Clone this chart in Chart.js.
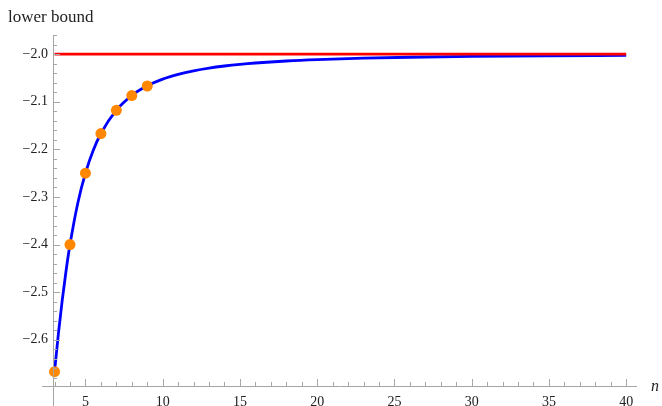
<!DOCTYPE html>
<html>
<head>
<meta charset="utf-8">
<script src="https://cdn.jsdelivr.net/npm/chart.js@4"></script>
<style>
  body { margin: 0; background: #fff; }
</style>
</head>
<body>
<canvas id="bound" width="662" height="406"></canvas>
<script>
// values
var curveN = [3, 3.25, 3.5, 3.75, 4, 4.5, 5, 5.5, 6, 7, 8, 9, 10, 11, 12, 13, 14, 15, 16, 18, 20, 23, 26, 30, 35, 40];
var curveBound = [-2.6667, -2.5872, -2.5161, -2.4539, -2.4000, -2.3137, -2.2500, -2.2025, -2.1667, -2.1176,
  -2.0870, -2.0667, -2.0526, -2.0426, -2.0351, -2.0294, -2.0250, -2.0215, -2.0187, -2.0145, -2.0116,
  -2.0086, -2.0066, -2.0049, -2.0036, -2.0027];
var pointN = [3, 4, 5, 6, 7, 8, 9];
var pointBound = [-2.667, -2.400, -2.250, -2.167, -2.118, -2.087, -2.067];
var limitN = [3, 40];
var limitValue = -2.0;
var xTicks = [5, 10, 15, 20, 25, 30, 35, 40];
var yTicks = [-2.6, -2.5, -2.4, -2.3, -2.2, -2.1, -2.0];

var serif = "'Liberation Serif', 'DejaVu Serif', serif";
var axisColor = '#a6a6a6';

// Mathematica-style axes: ticks point inward, axes overshoot a little
var axesPlugin = {
  id: 'mmaAxes',
  afterDatasetsDraw: function(chart) {
    var ctx = chart.ctx, xs = chart.scales.x, ys = chart.scales.y, a = chart.chartArea;
    ctx.save();
    ctx.strokeStyle = axisColor;
    ctx.lineWidth = 1;
    ctx.beginPath();
    ctx.moveTo(a.left - 11, a.bottom + 0.5);
    ctx.lineTo(a.right, a.bottom + 0.5);
    ctx.moveTo(a.left + 0.5, a.top);
    ctx.lineTo(a.left + 0.5, chart.height);
    // x ticks
    for (var i = 3; i <= 40; i++) {
      var px = Math.round(xs.getPixelForValue(i)) + 0.5;
      var len = i % 5 === 0 ? 7 : 4;
      ctx.moveTo(px, a.bottom);
      ctx.lineTo(px, a.bottom - len);
    }
    // y ticks
    for (var k = -134; k <= -98; k++) {
      var v = k / 50;
      var py = Math.round(ys.getPixelForValue(v)) + 0.5;
      var l = k % 5 === 0 ? 7 : 4;
      ctx.moveTo(a.left, py);
      ctx.lineTo(a.left + l, py);
    }
    ctx.stroke();

    ctx.fillStyle = '#222';
    ctx.font = '17px ' + serif;
    ctx.textAlign = 'left';
    ctx.textBaseline = 'alphabetic';
    ctx.fillText('lower bound', 8, 22);
    ctx.font = 'italic 16px ' + serif;
    ctx.textBaseline = 'middle';
    ctx.fillText('n', 651, a.bottom + 1);
    ctx.restore();
  }
};

var chart = new Chart('bound', {
  type: 'scatter',
  plugins: [axesPlugin],
  data: {
    datasets: [
      {
        label: 'points',
        data: pointN.map(function(n, i) { return {x: n, y: pointBound[i]}; }),
        backgroundColor: 'rgb(255, 136, 0)',
        borderWidth: 0,
        pointRadius: 5.5,
        showLine: false
      },
      {
        label: 'limit',
        data: limitN.map(function(n) { return {x: n, y: limitValue}; }),
        borderColor: '#ff0000',
        borderWidth: 2.8,
        pointRadius: 0,
        showLine: true
      },
      {
        label: 'bound',
        data: curveN.map(function(n, i) { return {x: n, y: curveBound[i]}; }),
        borderColor: '#0000ff',
        borderWidth: 2.8,
        pointRadius: 0,
        showLine: true,
        cubicInterpolationMode: 'monotone'
      }
    ]
  },
  options: {
    responsive: false,
    animation: false,
    clip: false,
    layout: { padding: { top: 36, right: 25, left: 0, bottom: 0 } },
    plugins: { legend: { display: false }, tooltip: { enabled: false } },
    scales: {
      x: {
        type: 'linear',
        min: 2.9,
        max: 40.7,
        grid: { display: false, drawTicks: false },
        border: { display: false },
        afterBuildTicks: function(scale) { scale.ticks = xTicks.map(function(v) { return {value: v}; }); },
        afterFit: function(scale) { scale.height = 20; },
        ticks: {
          padding: 8,
          maxRotation: 0,
          autoSkip: false,
          color: '#222',
          font: { family: serif, size: 14 },
          callback: function(v) { return String(v); }
        }
      },
      y: {
        type: 'linear',
        min: -2.697,
        max: -1.962,
        grid: { display: false, drawTicks: false },
        border: { display: false },
        afterBuildTicks: function(scale) { scale.ticks = yTicks.map(function(v) { return {value: v}; }); },
        afterFit: function(scale) { scale.width = 53; },
        ticks: {
          padding: 5,
          autoSkip: false,
          color: '#222',
          font: { family: serif, size: 14 },
          callback: function(v) { return '\u2212' + Math.abs(v).toFixed(1); }
        }
      }
    }
  }
});
</script>
</body>
</html>
